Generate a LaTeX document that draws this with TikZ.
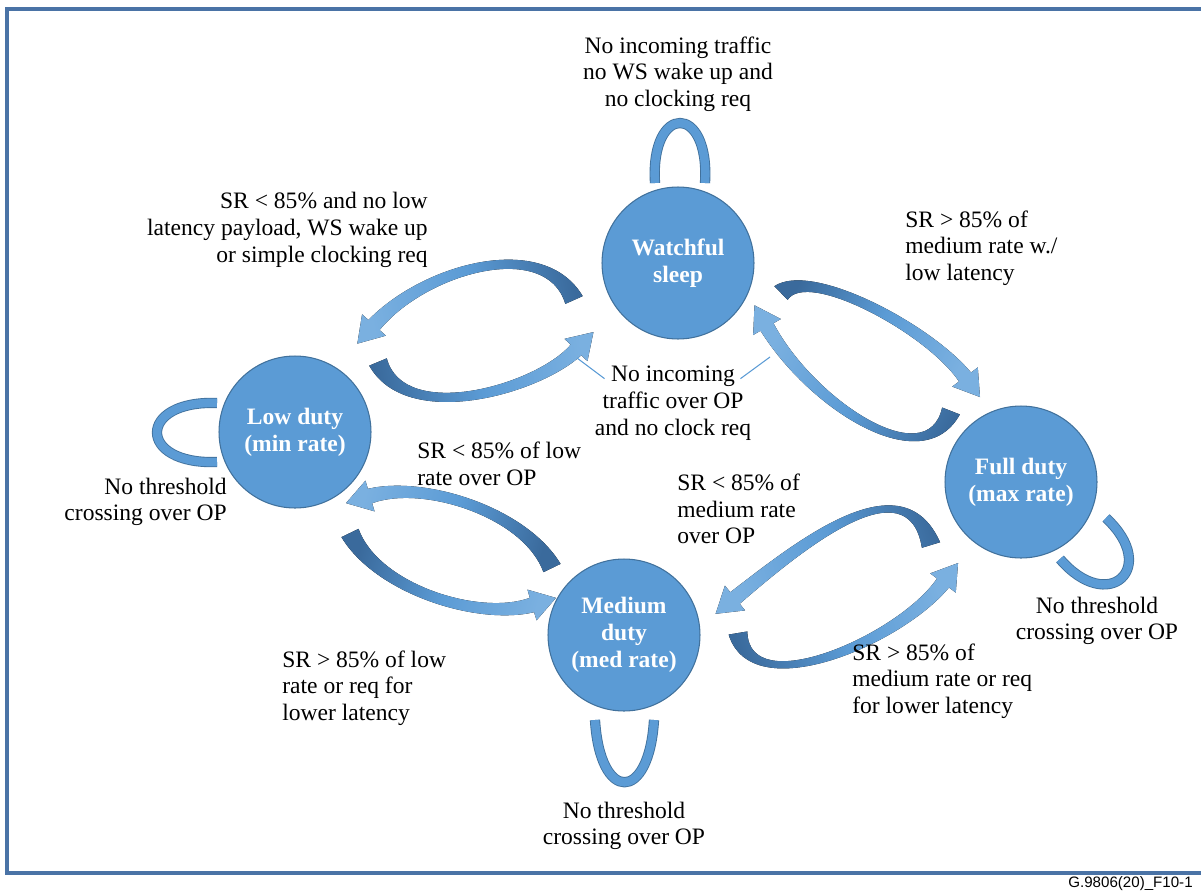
\documentclass[tikz,border=0pt]{standalone}
\usepackage{fontspec}
\setmainfont{Liberation Serif}
\setsansfont{Liberation Sans}
\usepackage{xcolor}
\usetikzlibrary{positioning, calc}

\definecolor{statefill}{HTML}{5B9BD5}
\definecolor{stateedge}{HTML}{41719C}
\definecolor{arrdark}{HTML}{3A6A9C}
\definecolor{arrlight}{HTML}{7AB0E0}
\definecolor{framecol}{HTML}{4A73A6}

% curved band arrow: [style]{tail}{control 1}{control 2}{head base}
\newcommand{\bandarrow}[5][]{%
  \fill[#1] ($(#2)!0.19cm!90:(#3)$)
    .. controls ($(#3)!0.1cm!90:(#4)$) and ($(#4)!0.1cm!-90:(#3)$) ..
    ($(#5)!0.15cm!-90:(#4)$) -- ($(#5)!0.32cm!-90:(#4)$) -- ($(#5)!-0.5cm!(#4)$)
    -- ($(#5)!0.32cm!90:(#4)$) -- ($(#5)!0.15cm!90:(#4)$)
    .. controls ($(#4)!0.1cm!90:(#3)$) and ($(#3)!0.1cm!-90:(#4)$) ..
    ($(#2)!0.19cm!-90:(#3)$) -- cycle;}

\begin{document}
\begin{tikzpicture}[
    x=0.02cm, y=-0.02cm,
    state/.style={circle, draw=stateedge, line width=0.6pt, fill=statefill, minimum size=3.04cm,
        inner sep=0pt, text=white, align=center, font=\fontsize{13.4}{15.3}\selectfont\bfseries},
    lbl/.style={inner sep=0pt, font=\fontsize{13.4}{15.2}\selectfont},
    loopband/.style={draw=stateedge, line width=0.5pt, double=statefill, double distance=0.17cm},
    armshade/.style={top color=arrdark, bottom color=arrlight, middle color=statefill},
    leader/.style={draw=statefill, line width=0.6pt}
]
    \useasboundingbox (0,0) rectangle (1201,893);
    \draw[framecol, line width=0.08cm] (7,9) rectangle (1206,873);
    \node[anchor=west, inner sep=0pt, font=\sffamily\fontsize{8.6}{10}\selectfont] (figid) at (1068,884) {G.9806(20)\_F10-1};

    % states
    \node[state] (watch) at (678,263) {Watchful\\sleep};
    \node[state] (low) at (295,432) {Low duty\\(min rate)};
    \node[state] (full) at (1021,482) {Full duty\\(max rate)};
    \node[state] (med) at (624,635) {Medium\\duty\\(med rate)};

    % self loops
    \draw[loopband] ($(watch)+(-23,-80)$) .. controls +(-5,-80) and +(5,-80) .. ($(watch)+(27,-80)$);
    \draw[loopband] ($(low)+(-78,-29)$) .. controls +(-80,-3) and +(-80,3) .. ($(low)+(-78,30)$);
    \draw[loopband] ($(med)+(-29,85)$) .. controls +(5,83) and +(-5,83) .. ($(med)+(30,85)$);
    \draw[loopband] ($(full)+(85,36)$) .. controls +(54,50) and +(48,56) .. ($(full)+(39,77)$);

    % transitions
    \bandarrow[armshade, shading angle=-79]{574,300}{545,235}{425,268}{374,325}
    \bandarrow[armshade, shading angle=98]{378,362}{405,427}{537,390}{576,350}
    \bandarrow[armshade, shading angle=62]{781,293}{810,265}{929,329}{965,377}
    \bandarrow[armshade, shading angle=-118]{951,411}{925,478}{812,405}{767,327}
    \bandarrow[armshade, shading angle=-72]{931,545}{905,460}{800,545}{735,598}
    \bandarrow[armshade, shading angle=108]{738,633}{750,705}{900,640}{943,583}
    \bandarrow[armshade, shading angle=-107]{552,568}{525,512}{424,480}{370,496}
    \bandarrow[armshade, shading angle=73]{350,533}{377,589}{478,621}{532,605}

    % labels
    \node[lbl, align=center] (wsloop) at (678,74) {No incoming traffic\\no WS wake up and\\no clocking req};
    \node[lbl, align=right, anchor=east] (wltext) at (428,230) {SR < 85\% and no low\\latency payload, WS wake up\\or simple clocking req};
    \node[lbl, align=left, anchor=west] (wftext) at (905,248) {SR > 85\% of\\medium rate w./\\low latency};
    \node[lbl, align=center] (idletext) at (673,403) {No incoming\\traffic over OP\\and no clock req};
    \node[lbl, align=right, anchor=east] (lowloop) at (227,502) {No threshold\\crossing over OP};
    \node[lbl, align=left, anchor=west] (lmtext) at (417,464) {SR < 85\% of low\\rate over OP};
    \node[lbl, align=left, anchor=west] (fmtext) at (677,509) {SR < 85\% of\\medium rate\\over OP};
    \node[lbl, align=center] (fullloop) at (1097,621) {No threshold\\crossing over OP};
    \node[lbl, align=left, anchor=west] (mltext) at (282,688) {SR > 85\% of low\\rate or req for\\lower latency};
    \node[lbl, align=left, anchor=west] (mftext) at (852,681) {SR > 85\% of\\medium rate or req\\for lower latency};
    \node[lbl, align=center] (medloop) at (624,826) {No threshold\\crossing over OP};

    % leader lines
    \coordinate (leadL) at (577,358);
    \coordinate (leadR) at (770,357);
    \draw[leader] (leadL) -- ([shift={(10,13)}]idletext.north west);
    \draw[leader] (leadR) -- ([shift={(-11,13)}]idletext.north east);
\end{tikzpicture}
\end{document}
